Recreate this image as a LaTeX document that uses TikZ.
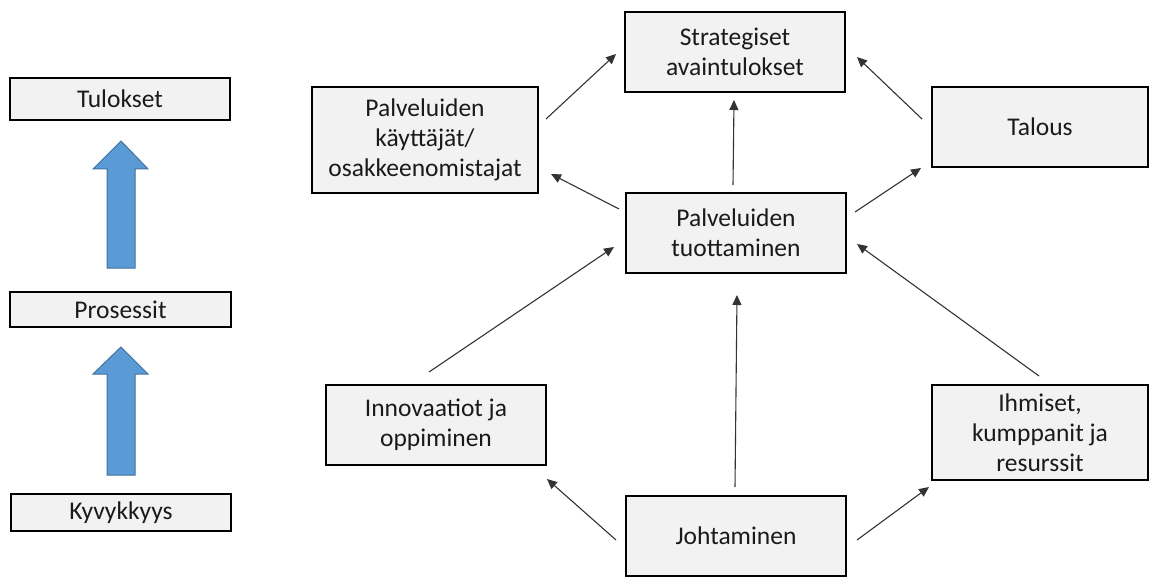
\documentclass[tikz,border=0pt]{standalone}
\usepackage{fontspec}
\setmainfont{Carlito}
\usetikzlibrary{arrows.meta}
\definecolor{boxfill}{HTML}{F2F2F2}
\definecolor{blockfill}{HTML}{5B9BD5}
\definecolor{blockline}{HTML}{41719C}
\definecolor{conncol}{HTML}{333333}
\definecolor{textcol}{HTML}{1A1A1A}
\begin{document}
\begin{tikzpicture}[x=1pt,y=-1pt,
  box/.style={draw=black, line width=1.6pt, fill=boxfill, rectangle,
    inner sep=0pt, align=center, text=textcol,
    font=\fontsize{25.5}{30}\selectfont},
  conn/.style={draw=conncol, line width=1.1pt,
    -{Triangle[length=10pt,width=9pt]}},
  blockarrow/.style={fill=blockfill, draw=blockline, line width=1pt, line join=miter}
]
\path[use as bounding box] (0,0) rectangle (1150,577);

% left column: levels
\node[box, minimum width=220pt, minimum height=42pt] (tul) at (120,99) {Tulokset};
\node[box, minimum width=221pt, minimum height=35pt] (pros) at (120.5,309.5) {Prosessit};
\node[box, minimum width=220pt, minimum height=37pt] (kyv) at (121,512.5) {Kyvykkyys};

% upward block arrows
\draw[blockarrow] (107,268) -- (107,169) -- (93,169) -- (121,141) -- (148,169) -- (135,169) -- (135,268) -- cycle;
\draw[blockarrow] (107,475) -- (107,374) -- (93,374) -- (121,347) -- (148,374) -- (135,374) -- (135,475) -- cycle;

% right side: model boxes
\node[box, minimum width=220pt, minimum height=80pt] (strat) at (735,52) {Strategiset\\avaintulokset};
\node[box, minimum width=226pt, minimum height=106pt] (kaytt) at (425,140) {Palveluiden\\käyttäjät/\\osakkeenomistajat};
\node[box, minimum width=216pt, minimum height=80pt] (talous) at (1040,127) {Talous};
\node[box, minimum width=220pt, minimum height=80pt] (tuot) at (736,233) {Palveluiden\\tuottaminen};
\node[box, minimum width=220pt, minimum height=80pt] (innov) at (436,425) {Innovaatiot ja\\oppiminen};
\node[box, minimum width=216pt, minimum height=95pt] (ihm) at (1040,432.5) {Ihmiset,\\kumppanit ja\\resurssit};
\node[box, minimum width=220pt, minimum height=80pt] (joht) at (736,536) {Johtaminen};

% connector end points, set a little apart from the boxes
\coordinate (kaytt-o) at (546,119);  \coordinate (strat-i1) at (616,54);
\coordinate (tuot-o1) at (619,209);  \coordinate (kaytt-i) at (551,174);
\coordinate (tuot-o2) at (733,185);  \coordinate (strat-i2) at (734,100);
\coordinate (talous-o) at (922,119); \coordinate (strat-i3) at (857,57);
\coordinate (tuot-o3) at (855,212);  \coordinate (talous-i) at (921,168);
\coordinate (innov-o) at (429,372);  \coordinate (tuot-i1) at (614,247);
\coordinate (joht-o1) at (735,487);  \coordinate (tuot-i2) at (737,295);
\coordinate (ihm-o) at (1039,376);   \coordinate (tuot-i3) at (857,244);
\coordinate (joht-o2) at (616,540);  \coordinate (innov-i) at (547,479);
\coordinate (joht-o3) at (857,540);  \coordinate (ihm-i) at (929,487);

\draw[conn] (kaytt-o) -- (strat-i1);
\draw[conn] (tuot-o1) -- (kaytt-i);
\draw[conn] (tuot-o2) -- (strat-i2);
\draw[conn] (talous-o) -- (strat-i3);
\draw[conn] (tuot-o3) -- (talous-i);
\draw[conn] (innov-o) -- (tuot-i1);
\draw[conn] (joht-o1) -- (tuot-i2);
\draw[conn] (ihm-o) -- (tuot-i3);
\draw[conn] (joht-o2) -- (innov-i);
\draw[conn] (joht-o3) -- (ihm-i);
\end{tikzpicture}
\end{document}
